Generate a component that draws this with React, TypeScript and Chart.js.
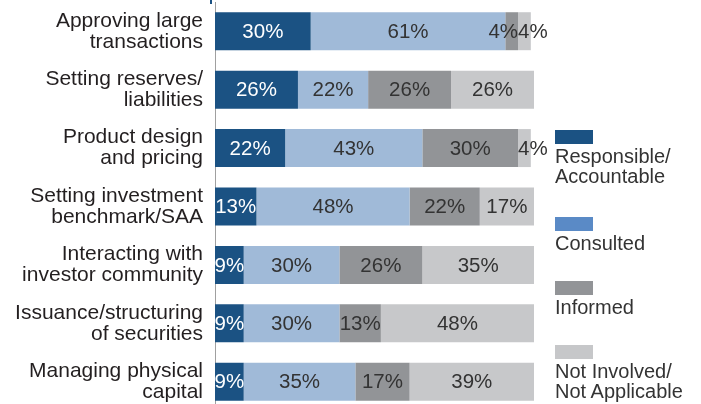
import React, { useEffect, useRef } from "react";
import { Chart, registerables } from "chart.js";

Chart.register(...registerables);

const categories: string[][] = [
  ["Approving large", "transactions"],
  ["Setting reserves/", "liabilities"],
  ["Product design", "and pricing"],
  ["Setting investment", "benchmark/SAA"],
  ["Interacting with", "investor community"],
  ["Issuance/structuring", "of securities"],
  ["Managing physical", "capital"],
];

const responsible = [30, 26, 22, 13, 9, 9, 9];
const consulted = [61, 22, 43, 48, 30, 30, 35];
const informed = [4, 26, 30, 22, 26, 13, 17];
const notInvolved = [4, 26, 4, 17, 35, 48, 39];

const seriesNames = ["Responsible/\nAccountable", "Consulted", "Informed", "Not Involved/\nNot Applicable"];
const barColors = ["#1B5283", "#A0BAD8", "#929497", "#C7C8CA"];
const legendColors = ["#1B5283", "#5A8AC6", "#929497", "#C6C7C9"];
const labelColors = ["#FFFFFF", "#333333", "#333333", "#333333"];
const legendTops = [130, 217, 281, 345];

const labelPlugin = {
  id: "barLabels",
  afterDatasetsDraw(chart: any) {
    const ctx = chart.ctx;
    ctx.save();
    ctx.font = "20.5px 'Liberation Sans', Arial, sans-serif";
    ctx.textBaseline = "middle";
    const nDs = chart.data.datasets.length;
    chart.data.datasets.forEach((ds: any, di: number) => {
      const meta = chart.getDatasetMeta(di);
      meta.data.forEach((bar: any, i: number) => {
        const text = ds.data[i] + "%";
        const left = Math.min(bar.x, bar.base);
        const right = Math.max(bar.x, bar.base);
        const w = ctx.measureText(text).width;
        ctx.fillStyle = labelColors[di];
        if (w > right - left && di > 0) {
          if (di === nDs - 1) {
            ctx.textAlign = "left";
            ctx.fillText(text, left, bar.y + 1);
          } else {
            ctx.textAlign = "right";
            ctx.fillText(text, right, bar.y + 1);
          }
        } else {
          ctx.textAlign = "center";
          ctx.fillText(text, (left + right) / 2, bar.y + 1);
        }
      });
    });
    ctx.restore();
  },
};

const topTickPlugin = {
  id: "topTick",
  afterDraw(chart: any) {
    const ctx = chart.ctx;
    ctx.save();
    ctx.fillStyle = "#1B5283";
    ctx.fillRect(chart.chartArea.left - 5, 0, 2, 4);
    ctx.restore();
  },
};

export default function App() {
  const ref = useRef<HTMLCanvasElement>(null);
  useEffect(() => {
    if (!ref.current) return;
    const datasets = [responsible, consulted, informed, notInvolved].map((d, i) => ({
      label: seriesNames[i],
      data: d,
      backgroundColor: barColors[i],
      borderWidth: 0,
      categoryPercentage: 1,
      barPercentage: 0.65,
    }));
    const chart = new Chart(ref.current, {
      type: "bar",
      data: { labels: categories, datasets },
      options: {
        indexAxis: "y",
        animation: false,
        responsive: false,
        devicePixelRatio: 1,
        layout: { padding: { top: 2, bottom: 1, right: 167, left: 0 } },
        plugins: { legend: { display: false }, tooltip: { enabled: false } },
        scales: {
          x: { stacked: true, min: 0, max: 100, display: false },
          y: {
            stacked: true,
            grid: { display: false, drawTicks: false },
            border: { display: true, color: "#A0A0A0", width: 1 },
            ticks: {
              padding: 12,
              color: "#231F20",
              font: { family: "'Liberation Sans', Arial, sans-serif", size: 21, lineHeight: 1.0 },
            },
            afterFit(scale: any) {
              scale.width = 215;
              scale.paddingTop = 0;
              scale.paddingBottom = 0;
            },
          },
        },
      },
      plugins: [labelPlugin, topTickPlugin],
    });
    return () => chart.destroy();
  }, []);

  return (
    <div style={{ position: "fixed", left: 0, top: 0, width: 701, height: 412, background: "#fff" }}>
      <canvas ref={ref} width={701} height={412} style={{ width: 701, height: 412, display: "block" }} />
      {seriesNames.map((name, i) => (
        <div key={i} style={{ position: "absolute", left: 555, top: legendTops[i] }}>
          <div style={{ width: 38, height: 14, background: legendColors[i] }} />
          <div
            style={{
              marginTop: 2,
              font: "20px 'Liberation Sans', Arial, sans-serif",
              lineHeight: "20px",
              color: "#333",
              whiteSpace: "pre",
            }}
          >
            {name}
          </div>
        </div>
      ))}
    </div>
  );
}
